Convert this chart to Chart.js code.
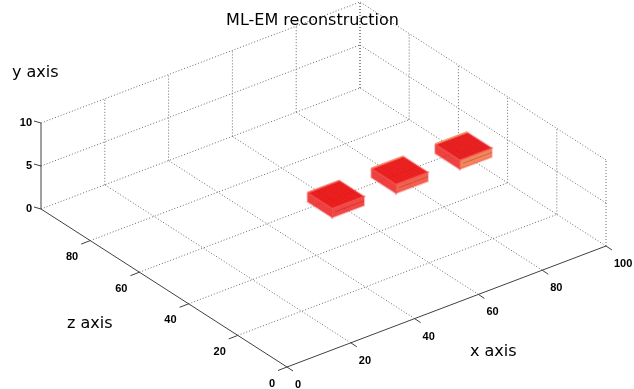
<!DOCTYPE html>
<html>
<head>
<meta charset="utf-8">
<script src="https://cdn.jsdelivr.net/npm/chart.js@4.4.1/dist/chart.umd.min.js"></script>
<style>
  html, body { margin: 0; padding: 0; background: #fff; }
  #c { display: block; }
</style>
</head>
<body>
<canvas id="c" width="634" height="389"></canvas>
<script>
// axis ticks
var xTicks = [0, 20, 40, 60, 80, 100];
var zTicks = [0, 20, 40, 60, 80, 100];
var yTicks = [0, 5, 10];
var zTickLabels = [0, 20, 40, 60, 80];   // 100 is hidden under the y axis

// reconstructed sources (start corner + extent)
var srcX = [45, 65, 85];
var srcZ = [40, 40, 40];
var srcW = [10, 10, 10];
var srcD = [10, 10, 10];
var srcY0 = [3.7, 3.7, 3.7];
var srcY1 = [4.75, 4.75, 4.75];

// view: projection of the 3d box onto the page
var O = [287, 367], EX = [3.19, -1.21], EZ = [-2.46, -1.58], EY = -8.6;
function P(x, y, z) {
    return { x: O[0] + EX[0] * x + EZ[0] * z, y: O[1] + EX[1] * x + EZ[1] * z + EY * y };
}

var xMax = xTicks[xTicks.length - 1], zMax = zTicks[zTicks.length - 1], yMax = yTicks[yTicks.length - 1];
var datasets = [];

function line(pts, color, dash, order, w) {
    datasets.push({
        data: pts, showLine: true, pointRadius: 0, borderWidth: w || 1,
        borderColor: color, borderDash: dash, fill: false, order: order
    });
}
var grid = '#6a6a6a', gridDash = [1, 2];

// floor + back walls grid
xTicks.forEach(function (x) {
    if (x === 0) return;
    line([P(x, 0, 0), P(x, 0, zMax)], grid, gridDash, 5);
    line([P(x, 0, zMax), P(x, yMax, zMax)], grid, gridDash, 5);
});
zTicks.forEach(function (z) {
    if (z === 0) return;
    line([P(0, 0, z), P(xMax, 0, z)], grid, gridDash, 5);
});
zTicks.forEach(function (z) {
    line([P(xMax, 0, z), P(xMax, yMax, z)], grid, gridDash, 5);
});
yTicks.forEach(function (y) {
    if (y === 0) return;
    line([P(0, y, zMax), P(xMax, y, zMax)], grid, gridDash, 5);
    line([P(xMax, y, 0), P(xMax, y, zMax)], grid, gridDash, 5);
});

// sources: top, left (x0) and front (z0) faces
var faceCols = [
    ['rgba(238,14,14,0.92)', 'rgba(234,30,30,0.85)', 'rgba(236,40,36,0.85)'],
    ['rgba(238,16,16,0.92)', 'rgba(234,30,30,0.85)', 'rgba(238,70,48,0.85)'],
    ['rgba(234,16,16,0.92)', 'rgba(234,34,30,0.85)', 'rgba(238,120,70,0.88)']
];
var farEdge = ['rgba(246,100,90,0.5)', 'rgba(246,130,95,0.55)', 'rgba(242,150,90,0.6)'];
function face(pts, col) {
    pts.push(pts[0]);
    datasets.push({
        data: pts, showLine: true, pointRadius: 0, borderWidth: 2,
        borderColor: 'rgba(244,80,80,0.4)', backgroundColor: col, fill: 'shape', order: 4
    });
}
for (var i = 0; i < srcX.length; i++) {
    var x0 = srcX[i], x1 = srcX[i] + srcW[i], z0 = srcZ[i], z1 = srcZ[i] + srcD[i];
    var y0 = srcY0[i], y1 = srcY1[i];
    face([P(x0, y1, z1), P(x1, y1, z1), P(x1, y1, z0), P(x0, y1, z0)], faceCols[i][0]);
    face([P(x0, y1, z1), P(x0, y1, z0), P(x0, y0, z0), P(x0, y0, z1)], faceCols[i][1]);
    face([P(x0, y1, z0), P(x1, y1, z0), P(x1, y0, z0), P(x0, y0, z0)], faceCols[i][2]);
    // voxel texture on the top face
    for (var k = 1; k < srcW[i]; k++) {
        line([P(x0 + k, y1, z0), P(x0 + k, y1, z1)], 'rgba(150,0,0,0.09)', [], 3);
    }
    for (var k2 = 1; k2 < srcD[i]; k2++) {
        line([P(x0, y1, z0 + k2), P(x1, y1, z0 + k2)], 'rgba(150,0,0,0.09)', [], 3);
    }
    line([P(x0, y1, z1), P(x1, y1, z1)], farEdge[i], [], 3, 2);
    line([P(x0 + 1, (y0 + y1) / 2, z0), P(x1, (y0 + y1) / 2, z0)], 'rgba(160,10,10,0.3)', [], 3);
}

// axes + ticks
var axc = '#404040';
line([P(0, 0, 0), P(xMax, 0, 0)], axc, [], 1);
line([P(0, 0, 0), P(0, 0, zMax)], axc, [], 1);
line([P(0, 0, zMax), P(0, yMax, zMax)], axc, [], 1);
function tick(p, dx, dy) {
    line([p, { x: p.x + dx, y: p.y + dy }], axc, [], 1);
}
xTicks.forEach(function (x) { tick(P(x, 0, 0), 6, 4); });
zTickLabels.forEach(function (z) { tick(P(0, 0, z), -9, 3.5); });
yTicks.forEach(function (y) { tick(P(0, y, zMax), -7, -2); });

var labels3d = {
    id: 'labels3d',
    afterDraw: function (chart) {
        var ctx = chart.ctx, sx = chart.scales.x, sy = chart.scales.y;
        function txt(s, p, dx, dy, align, font) {
            ctx.font = font;
            ctx.textAlign = align;
            ctx.textBaseline = 'alphabetic';
            ctx.fillText(s, sx.getPixelForValue(p.x) + dx, sy.getPixelForValue(p.y) + dy);
        }
        ctx.save();
        ctx.fillStyle = '#000';
        var tf = 'bold 11px "Liberation Sans"';
        xTicks.forEach(function (x) { txt(String(x), P(x, 0, 0), 8, 21, 'left', tf); });
        zTickLabels.forEach(function (z) { txt(String(z), P(0, 0, z), -12, 19.5, 'right', tf); });
        yTicks.forEach(function (y) { txt(String(y), P(0, y, zMax), -9, 3, 'right', tf); });
        var lf = '16px "DejaVu Sans"';
        txt('ML-EM reconstruction', { x: 312.5, y: 24.5 }, 0, 0, 'center', lf);
        txt('y axis', { x: 12, y: 77 }, 0, 0, 'left', lf);
        txt('z axis', { x: 67, y: 328 }, 0, 0, 'left', lf);
        txt('x axis', { x: 470, y: 356 }, 0, 0, 'left', lf);
        ctx.restore();
    }
};

new Chart(document.getElementById('c').getContext('2d'), {
    type: 'scatter',
    data: { datasets: datasets },
    options: {
        responsive: false,
        animation: false,
        layout: { padding: 0 },
        plugins: { legend: { display: false }, tooltip: { enabled: false } },
        scales: {
            x: { type: 'linear', min: 0, max: 634, display: false },
            y: { type: 'linear', min: 0, max: 389, reverse: true, display: false }
        }
    },
    plugins: [labels3d]
});
</script>
</body>
</html>
